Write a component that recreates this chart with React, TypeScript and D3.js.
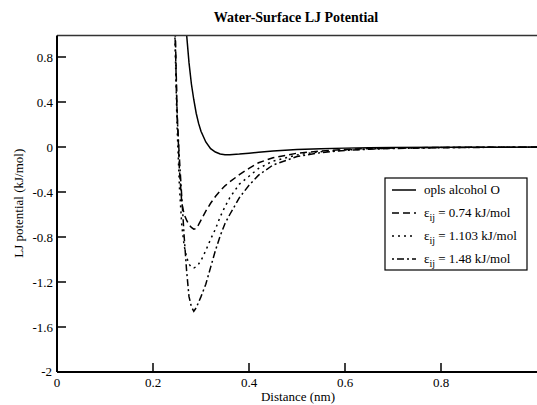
import React from "react";
import * as d3 from "d3";

const xs = [0.24, 0.245, 0.25, 0.255, 0.26, 0.265, 0.27, 0.275, 0.28, 0.285, 0.29, 0.295, 0.30, 0.31, 0.32, 0.33, 0.34, 0.35, 0.36, 0.38, 0.40, 0.42, 0.45, 0.50, 0.55, 0.60, 0.65, 0.70, 0.80, 0.90, 1.0];

const oplsAlcoholO = [9, 6, 4.5, 3.3, 2.4, 1.45, 1.0, 0.75, 0.56, 0.42, 0.3, 0.21, 0.14, 0.045, -0.015, -0.045, -0.062, -0.068, -0.068, -0.063, -0.055, -0.047, -0.036, -0.023, -0.015, -0.01, -0.007, -0.005, -0.0025, -0.0015, -0.001];
const eps074 = [3, 1.3, 0.35, -0.2, -0.5, -0.6, -0.65, -0.69, -0.715, -0.73, -0.725, -0.69, -0.65, -0.57, -0.5, -0.44, -0.39, -0.345, -0.31, -0.245, -0.19, -0.14, -0.095, -0.055, -0.035, -0.022, -0.014, -0.009, -0.004, -0.002, -0.001];
const eps1103 = [3, 1.1, 0.2, -0.35, -0.7, -0.88, -0.98, -1.04, -1.07, -1.075, -1.065, -1.04, -1.01, -0.92, -0.82, -0.73, -0.62, -0.53, -0.45, -0.33, -0.26, -0.19, -0.125, -0.07, -0.042, -0.027, -0.017, -0.011, -0.005, -0.002, -0.001];
const eps148 = [3, 1.2, 0.3, -0.1, -0.45, -0.8, -1.1, -1.33, -1.42, -1.46, -1.43, -1.38, -1.33, -1.22, -1.07, -0.92, -0.79, -0.68, -0.6, -0.45, -0.34, -0.25, -0.16, -0.085, -0.05, -0.03, -0.02, -0.013, -0.006, -0.003, -0.002];

const seriesNames = ["opls alcohol O", "= 0.74 kJ/mol", "= 1.103 kJ/mol", "= 1.48 kJ/mol"];
const xTicks = [0, 0.2, 0.4, 0.6, 0.8];
const yTicks = [-2, -1.6, -1.2, -0.8, -0.4, 0, 0.4, 0.8];

const W = 537, H = 405;
const L = 57, R = 537, T = 34.5, B = 372;
const FONT = "'Liberation Serif', 'Times New Roman', serif";

export default function App() {
  const x = d3.scaleLinear().domain([0, 1]).range([L, R]);
  const y = d3.scaleLinear().domain([-2, 1]).range([B, T]);
  const line = d3.line<number>().x((_, i) => x(xs[i])).y((d) => y(d));
  const dashes = [null, "7,4", "2,4", "2,3,7,3"];
  const data = [oplsAlcoholO, eps074, eps1103, eps148];
  const legY = [190, 213, 236, 259];

  return (
    <svg width={W} height={H} style={{ position: "absolute", left: 0, top: 0, background: "#fff" }} fontFamily={FONT}>
      <defs>
        <clipPath id="clip">
          <rect x={L} y={T + 1} width={R - L} height={B - T - 1} />
        </clipPath>
      </defs>
      <rect x={0} y={0} width={W} height={H} fill="#fff" />
      <text x={296} y={22} textAnchor="middle" fontWeight="bold" fontSize={14}>Water-Surface LJ Potential</text>
      <g clipPath="url(#clip)">
        {data.map((d, i) => (
          <path key={i} d={line(d) || ""} fill="none" stroke="#000" strokeWidth={1.5}
            strokeDasharray={dashes[i] || undefined} />
        ))}
      </g>
      {/* frame */}
      <line x1={L} x2={R} y1={T + 1} y2={T + 1} stroke="#333" strokeWidth={1.5} />
      <line x1={L} x2={L} y1={T + 1} y2={B} stroke="#000" strokeWidth={2} />
      <line x1={L} x2={R} y1={B} y2={B} stroke="#000" strokeWidth={2} />
      {xTicks.map((t) => (
        <g key={t}>
          {t !== 0 && <line x1={x(t)} x2={x(t)} y1={B} y2={B - 9} stroke="#000" strokeWidth={1.5} />}
          <text x={x(t)} y={387} textAnchor="middle" fontSize={13}>{String(t)}</text>
        </g>
      ))}
      {yTicks.map((t) => (
        <g key={t}>
          {t !== -2 && <line x1={L} x2={L + 9} y1={y(t)} y2={y(t)} stroke="#000" strokeWidth={1.5} />}
          <text x={t === -2 ? 52 : 53} y={y(t) + (t === -2 ? 3.5 : 4.5)} textAnchor="end" fontSize={13}>{String(t)}</text>
        </g>
      ))}
      <text x={298} y={401} textAnchor="middle" fontSize={13}>Distance (nm)</text>
      <text transform={`translate(23,${(T + B) / 2}) rotate(-90)`} textAnchor="middle" fontSize={13}>LJ potential (kJ/mol)</text>
      {/* legend */}
      <rect x={385} y={178} width={142} height={92} fill="#fff" stroke="#000" strokeWidth={1.2} />
      {seriesNames.map((n, i) => (
        <g key={n}>
          <line x1={392} x2={416} y1={legY[i]} y2={legY[i]} stroke="#000" strokeWidth={1.5}
            strokeDasharray={dashes[i] || undefined} />
          {i === 0 ? (
            <text x={424} y={legY[i] + 4} fontSize={13}>{n}</text>
          ) : (
            <text x={424} y={legY[i] + 4} fontSize={13}>
              ε<tspan fontSize={10} dy={4}>ij</tspan><tspan dy={-4}>{" " + n}</tspan>
            </text>
          )}
        </g>
      ))}
    </svg>
  );
}
